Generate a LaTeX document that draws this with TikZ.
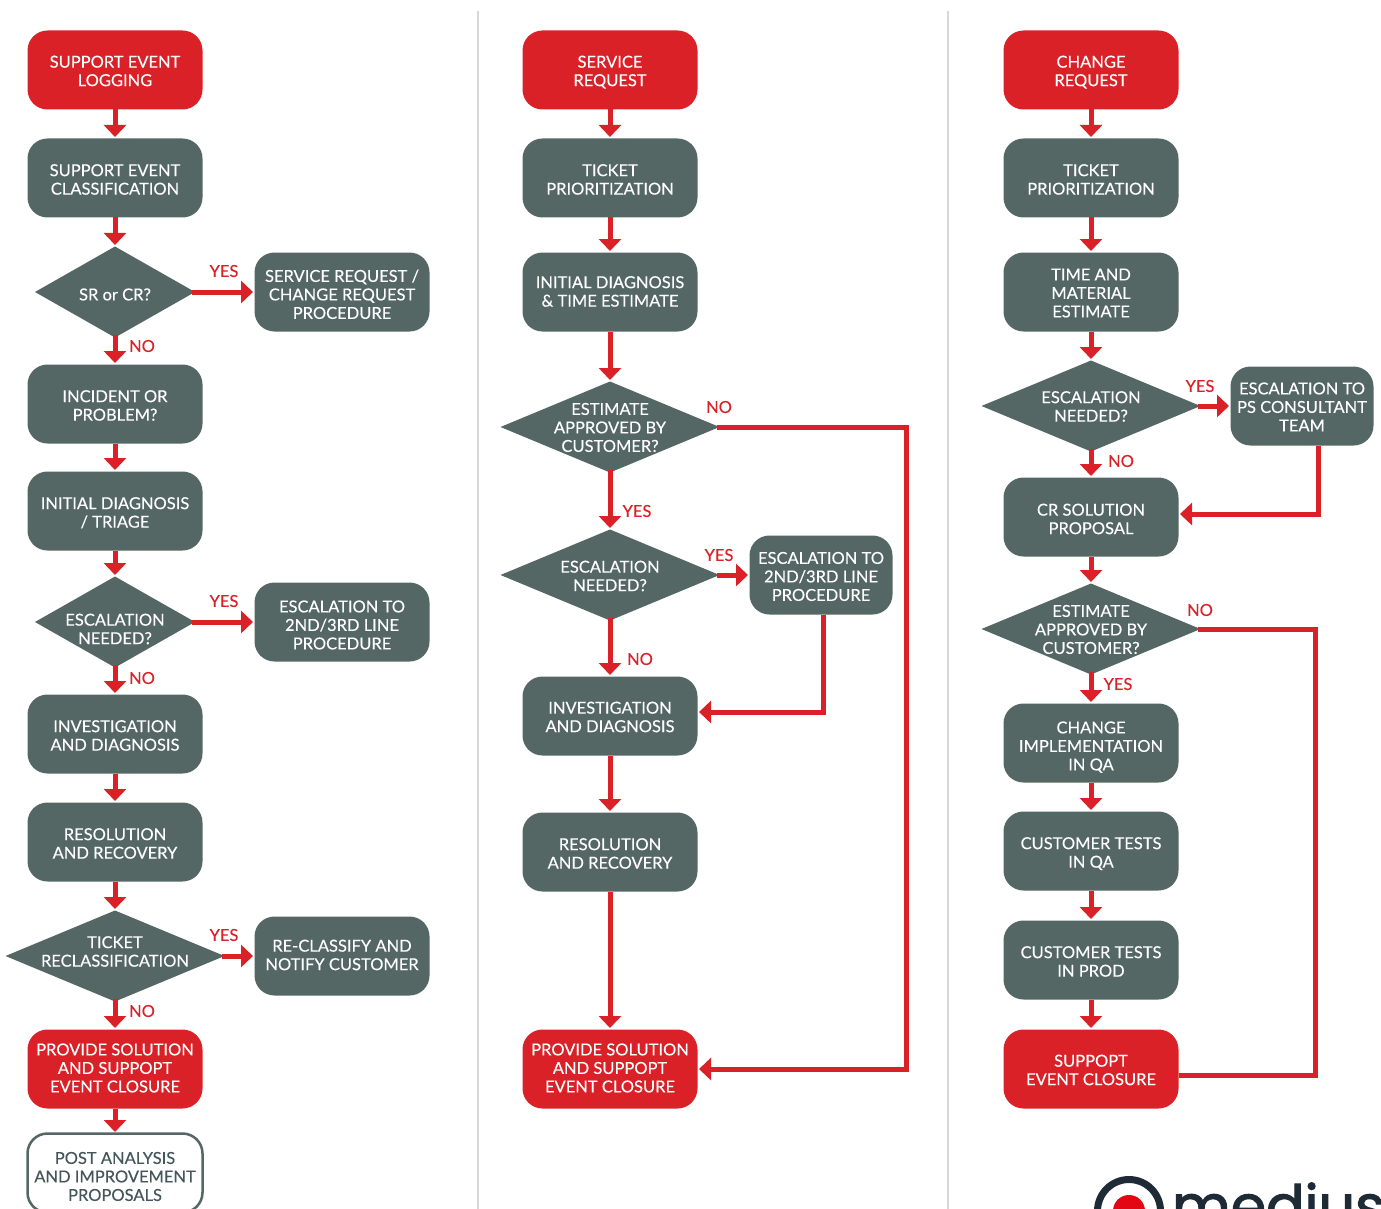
\documentclass[tikz,border=0pt]{standalone}
\usepackage{fontspec}
\setmainfont[FakeBold=0.2]{Lato}
\newfontfamily\logofont[FakeBold=2]{Poppins}
\usetikzlibrary{shapes.geometric,arrows.meta}
\definecolor{slate}{HTML}{546765}
\definecolor{brandred}{HTML}{DA2128}
\definecolor{logodark}{HTML}{1E2A36}
\definecolor{logored}{HTML}{E30613}
\definecolor{divider}{HTML}{D8D8D8}
\definecolor{posttext}{HTML}{445659}
\newcommand{\dtxt}[2]{\smash{\makebox[0pt]{\raisebox{-#1pt}{\begin{tabular}{@{}c@{}}#2\end{tabular}}}}}
\tikzset{
  x=1pt,y=-1pt,
  every node/.style={font=\fontsize{16.5}{18.5}\selectfont,inner sep=0pt,outer sep=0pt,align=center},
  boxn/.style={rounded corners=20pt,minimum width=175pt,minimum height=79pt,fill=slate,text=white},
  boxnar/.style={boxn,minimum width=143pt},
  redbox/.style={boxn,fill=brandred},
  postbox/.style={boxn,fill=white,draw=slate,line width=2.5pt,text=posttext},
  dia/.style={diamond,fill=slate,text=white,minimum width=160pt,minimum height=91pt},
  wide/.style={minimum width=219pt},
  lab/.style={text=brandred},
  flow/.style={draw=brandred,line width=5pt,-{Triangle[width=22pt,length=12pt]},shorten >=1.5pt},
  plain/.style={draw=brandred,line width=5pt},
  fromdia/.style={shorten <=-3pt},
}
\begin{document}
\begin{tikzpicture}
\path[use as bounding box,clip] (0,0) rectangle (1381,1209);
\fill[white] (0,0) rectangle (1381,1209);
\draw[divider,line width=1.2pt] (478,11) -- (478,1209);
\draw[divider,line width=1.2pt] (948,11) -- (948,1209);

% column 1
\node[redbox] (a1) at (115,70) {\dtxt{7.5}{SUPPORT EVENT\\LOGGING}};
\node[boxn] (a2) at (115,178) {\dtxt{8}{SUPPORT EVENT\\CLASSIFICATION}};
\node[dia] (a3) at (115,292) {\dtxt{9}{SR or CR?}};
\node[boxn] (a3y) at (342,292) {\dtxt{9}{SERVICE REQUEST /\\CHANGE REQUEST\\PROCEDURE}};
\node[boxn] (a4) at (115,404) {\dtxt{8}{INCIDENT OR\\PROBLEM?}};
\node[boxn] (a5) at (115,511) {\dtxt{8}{INITIAL DIAGNOSIS\\/ TRIAGE}};
\node[dia] (a6) at (115,622) {\dtxt{13.5}{ESCALATION\\NEEDED?}};
\node[boxn] (a6y) at (342,622) {\dtxt{9.5}{ESCALATION TO\\2ND/3RD LINE\\PROCEDURE}};
\node[boxn] (a7) at (115,734) {\dtxt{8}{INVESTIGATION\\AND DIAGNOSIS}};
\node[boxn] (a8) at (115,842) {\dtxt{8}{RESOLUTION\\AND RECOVERY}};
\node[dia,wide] (a9) at (115,956) {\dtxt{2}{TICKET\\RECLASSIFICATION}};
\node[boxn] (a9y) at (342,956) {\dtxt{5.5}{RE-CLASSIFY AND\\NOTIFY CUSTOMER}};
\node[redbox] (a10) at (115,1069) {\dtxt{5.5}{PROVIDE SOLUTION\\AND SUPPOPT\\EVENT CLOSURE}};
\node[postbox] (a11) at (115,1173) {\dtxt{10}{POST ANALYSIS\\AND IMPROVEMENT\\PROPOSALS}};

% column 2
\node[redbox] (b1) at (610,70) {\dtxt{7.5}{SERVICE\\REQUEST}};
\node[boxn] (b2) at (610,178) {\dtxt{8}{TICKET\\PRIORITIZATION}};
\node[boxn] (b3) at (610,292) {\dtxt{6}{INITIAL DIAGNOSIS\\\& TIME ESTIMATE}};
\node[dia,wide] (b4) at (610,427) {\dtxt{7}{ESTIMATE\\APPROVED BY\\CUSTOMER?}};
\node[dia,wide] (b5) at (610,575) {\dtxt{7.5}{ESCALATION\\NEEDED?}};
\node[boxnar] (b5y) at (821,575) {\dtxt{8}{ESCALATION TO\\2ND/3RD LINE\\PROCEDURE}};
\node[boxn] (b6) at (610,716) {\dtxt{7.5}{INVESTIGATION\\AND DIAGNOSIS}};
\node[boxn] (b7) at (610,852) {\dtxt{8}{RESOLUTION\\AND RECOVERY}};
\node[redbox] (b8) at (610,1069) {\dtxt{5.5}{PROVIDE SOLUTION\\AND SUPPOPT\\EVENT CLOSURE}};

% column 3
\node[redbox] (c1) at (1091,70) {\dtxt{7.5}{CHANGE\\REQUEST}};
\node[boxn] (c2) at (1091,178) {\dtxt{8}{TICKET\\PRIORITIZATION}};
\node[boxn] (c3) at (1091,292) {\dtxt{7.5}{TIME AND\\MATERIAL\\ESTIMATE}};
\node[dia,wide] (c4) at (1091,406) {\dtxt{7}{ESCALATION\\NEEDED?}};
\node[boxnar] (c4y) at (1302,406) {\dtxt{7.5}{ESCALATION TO\\PS CONSULTANT\\TEAM}};
\node[boxn] (c5) at (1091,517) {\dtxt{8.5}{CR SOLUTION\\PROPOSAL}};
\node[dia,wide] (c6) at (1091,629) {\dtxt{7}{ESTIMATE\\APPROVED BY\\CUSTOMER?}};
\node[boxn] (c7) at (1091,743) {\dtxt{9.5}{CHANGE\\IMPLEMENTATION\\IN QA}};
\node[boxn] (c8) at (1091,851) {\dtxt{8}{CUSTOMER TESTS\\IN QA}};
\node[boxn] (c9) at (1091,960) {\dtxt{8}{CUSTOMER TESTS\\IN PROD}};
\node[redbox] (c10) at (1091,1069) {\dtxt{7.5}{SUPPOPT\\EVENT CLOSURE}};

% connector waypoints
\coordinate (b4turn) at (906,700);
\coordinate (c10turn) at (1315,800);

% connectors column 1
\draw[flow] (a1) -- (a2);
\draw[flow] (a2) -- (a3);
\draw[flow,fromdia] (a3) -- (a3y);
\draw[flow,fromdia] (a3) -- (a4);
\draw[flow] (a4) -- (a5);
\draw[flow] (a5) -- (a6);
\draw[flow,fromdia] (a6) -- (a6y);
\draw[flow,fromdia] (a6) -- (a7);
\draw[flow] (a7) -- (a8);
\draw[flow] (a8) -- (a9);
\draw[flow,fromdia] (a9) -- (a9y);
\draw[flow,fromdia] (a9) -- (a10);
\draw[flow] (a10) -- (a11);

% connectors column 2
\draw[flow] (b1) -- (b2);
\draw[flow] (b2) -- (b3);
\draw[flow] (b3) -- (b4);
\draw[flow,fromdia] (b4) -- (b5);
\draw[flow,fromdia] (b5) -- (b5y);
\draw[flow,fromdia] (b5) -- (b6);
\draw[flow] (b6) -- (b7);
\draw[flow] (b7) -- (b8);
\draw[flow] ([xshift=2pt]b5y.south) |- ([yshift=4pt]b6.east);
\draw[flow,fromdia] (b4.east) -| (b4turn) |- (b8.east);

% connectors column 3
\draw[flow] (c1) -- (c2);
\draw[flow] (c2) -- (c3);
\draw[flow] (c3) -- (c4);
\draw[flow,fromdia] (c4) -- (c4y);
\draw[flow,fromdia] (c4) -- (c5);
\draw[flow] (c5) -- (c6);
\draw[flow,fromdia] (c6) -- (c7);
\draw[flow] (c7) -- (c8);
\draw[flow] (c8) -- (c9);
\draw[flow] (c9) -- (c10);
\draw[flow] ([xshift=16pt]c4y.south) |- ([yshift=3pt]c5.east);
\draw[plain,shorten >=-3pt] ([yshift=-6pt]c10.east) -| (c10turn) |- (c6.east);

% labels
\node[lab] (l1) at (224,271) {YES};
\node[lab] (l2) at (142,346) {NO};
\node[lab] (l3) at (224,601) {YES};
\node[lab] (l4) at (142,678) {NO};
\node[lab] (l5) at (224,935) {YES};
\node[lab] (l6) at (142,1011) {NO};
\node[lab] (l7) at (719,407) {NO};
\node[lab] (l8) at (637,511) {YES};
\node[lab] (l9) at (719,555) {YES};
\node[lab] (l10) at (640,659) {NO};
\node[lab] (l11) at (1200,386) {YES};
\node[lab] (l12) at (1121,461) {NO};
\node[lab] (l13) at (1200,610) {NO};
\node[lab] (l14) at (1118,684) {YES};

% logo
\draw[logodark,line width=7pt] (1129,1211) circle (31.5);
\fill[logored] (1129,1211) circle (16);
\node[anchor=base west,text=logodark,font=\logofont\fontsize{57}{57}\selectfont] (logo) at (1172,1226) {medius};
\end{tikzpicture}
\end{document}
